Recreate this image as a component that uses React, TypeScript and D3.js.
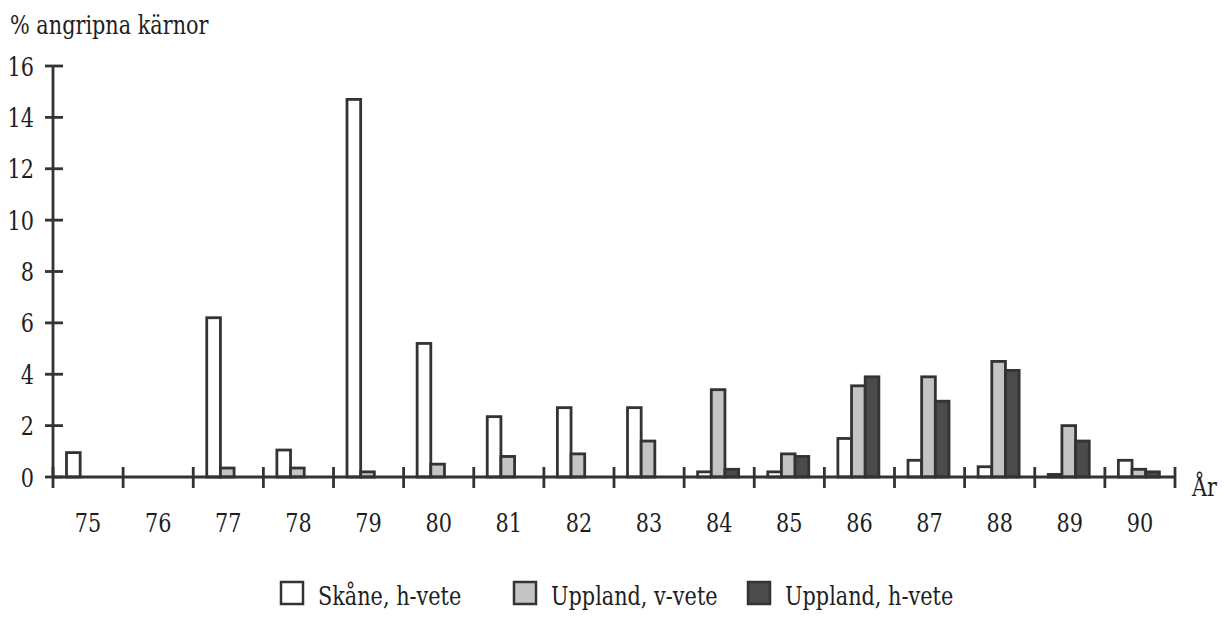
import * as d3 from 'd3';
import { useEffect, useRef } from 'react';

const years = ['75', '76', '77', '78', '79', '80', '81', '82', '83', '84', '85', '86', '87', '88', '89', '90'];
const skane = [0.95, 0, 6.2, 1.05, 14.7, 5.2, 2.35, 2.7, 2.7, 0.2, 0.2, 1.5, 0.65, 0.4, 0.1, 0.65];
const upplandV = [0, 0, 0.35, 0.35, 0.2, 0.5, 0.8, 0.9, 1.4, 3.4, 0.9, 3.55, 3.9, 4.5, 2.0, 0.3];
const upplandH = [0, 0, 0, 0, 0, 0, 0, 0, 0, 0.3, 0.8, 3.9, 2.95, 4.15, 1.4, 0.2];
const seriesNames = ['Skåne, h-vete', 'Uppland, v-vete', 'Uppland, h-vete'];
const yTicks = [0, 2, 4, 6, 8, 10, 12, 14, 16];

const WIDTH = 1224;
const HEIGHT = 621;
const INK = '#333333';
const fills = ['#ffffff', '#c4c4c4', '#4b4b4b'];
// only DejaVu Serif is available as a serif face; squeeze it to a Times-like width
const FONT = 'DejaVu Serif';
const FONT_SIZE = 26;
const SQUEEZE = 0.8;

export default function App() {
  const ref = useRef<SVGSVGElement>(null);

  useEffect(() => {
    const svg = d3.select(ref.current);
    svg.selectAll('*').remove();

    const series = [skane, upplandV, upplandH];

    const x = d3.scaleBand<string>().domain(years).range([53, 1175]).padding(0);
    const xSub = d3.scaleBand<number>().domain([0, 1, 2]).range([13.5, 54.5]).padding(0);
    const y = d3.scaleLinear().domain([0, 16]).range([477, 66]);

    const bars = years.flatMap((yr, i) =>
      series.map((s, k) => ({ yr, k, v: s[i] }))
    ).filter(d => d.v > 0);

    svg.append('g')
      .selectAll('rect')
      .data(bars)
      .enter()
      .append('rect')
      .attr('x', d => (x(d.yr) as number) + (xSub(d.k) as number))
      .attr('y', d => y(d.v))
      .attr('width', xSub.bandwidth())
      .attr('height', d => y(0) - y(d.v))
      .attr('fill', d => fills[d.k])
      .attr('stroke', INK)
      .attr('stroke-width', 2.8);

    // axes
    const ax = svg.append('g').attr('stroke', INK).attr('stroke-width', 2.8);
    ax.append('line')
      .attr('x1', 53).attr('x2', 53)
      .attr('y1', y(0)).attr('y2', y(16));
    ax.selectAll('.yt')
      .data(yTicks)
      .enter()
      .append('line')
      .attr('x1', 45).attr('x2', 63)
      .attr('y1', d => y(d)).attr('y2', d => y(d));

    const bounds = years.map(yr => x(yr) as number).concat([x.range()[1]]);
    ax.append('line')
      .attr('x1', 53).attr('x2', 1175)
      .attr('y1', y(0)).attr('y2', y(0));
    ax.selectAll('.xt')
      .data(bounds)
      .enter()
      .append('line')
      .attr('x1', d => d).attr('x2', d => d)
      .attr('y1', y(0) - 10).attr('y2', y(0) + 11);

    const txt = svg.append('g')
      .attr('font-family', FONT)
      .attr('font-size', FONT_SIZE)
      .attr('fill', '#1e1e1e');

    const label = (tx: number, ty: number, s: string, anchor = 'start') =>
      txt.append('text')
        .attr('transform', `translate(${tx},${ty}) scale(${SQUEEZE},1)`)
        .attr('text-anchor', anchor)
        .text(s);

    yTicks.forEach(t => label(34, y(t) + 9.5, String(t), 'end'));
    years.forEach(yr => label((x(yr) as number) + x.bandwidth() / 2, 532, yr, 'middle'));
    label(10, 34, '% angripna kärnor');
    label(1192, 496, 'År');

    // legend
    const legendX = [281, 514, 748];
    seriesNames.forEach((name, i) => {
      svg.append('rect')
        .attr('x', legendX[i]).attr('y', 582)
        .attr('width', 22).attr('height', 22)
        .attr('fill', fills[i])
        .attr('stroke', INK)
        .attr('stroke-width', 2.5);
      label(legendX[i] + 37, 605, name);
    });

    return () => { svg.selectAll('*').remove(); };
  }, []);

  return (
    <svg
      ref={ref}
      width={WIDTH}
      height={HEIGHT}
      style={{ position: 'absolute', left: 0, top: 0, background: '#fff' }}
    />
  );
}
